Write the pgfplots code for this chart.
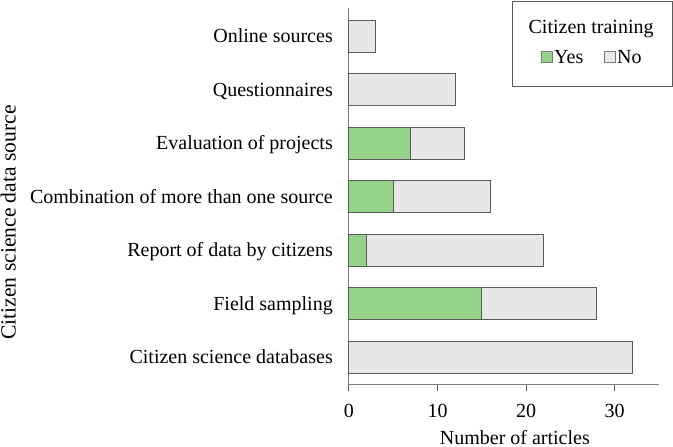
\documentclass[border=0pt]{standalone}
\usepackage{fontspec}
\setmainfont{Liberation Serif}
\usepackage{pgfplots}
\pgfplotsset{compat=1.18}
\definecolor{yesgreen}{HTML}{95D38A}
\definecolor{nogray}{HTML}{E8E7E8}
\definecolor{edge}{HTML}{5A5A5A}
\definecolor{axisgray}{HTML}{7A7A7A}
\pgfplotsset{sq legend/.style={legend image code/.code={\draw[##1, draw=axisgray, line width=0.8bp] (0bp,-5.5bp) rectangle (11bp,5.5bp);}}}
\begin{document}
\begin{tikzpicture}[font=\fontsize{20bp}{24bp}\selectfont]
\useasboundingbox (-349bp,-63bp) rectangle (324bp,384bp);
\begin{axis}[
  at={(0,0)}, anchor=south west,
  scale only axis, width=310bp, height=376bp,
  xbar stacked, bar width=31.7bp,
  xmin=0, xmax=35, ymin=-0.5, ymax=6.53,
  clip=false,
  axis lines=left,
  axis line style={-, draw=axisgray, line width=1bp},
  xtick={0,10,20,30}, ytick={0,...,6},
  yticklabels={Citizen science databases, Field sampling, Report of data by citizens, Combination of more than one source, Evaluation of projects, Questionnaires, Online sources},
  tick align=outside,
  x tick style={draw=edge, line width=1bp},
  major tick length=7bp,
  y tick style={draw=none},
  /pgf/number format/assume math mode=true,
  yticklabel style={anchor=base east, inner sep=0pt, xshift=-9bp, yshift=-6.5bp},
  xticklabel style={anchor=base, inner sep=0pt, yshift=-26.5bp},
  xlabel={Number of articles},
  xlabel style={at={(axis description cs:0.535,0)}, anchor=base, inner sep=0pt, yshift=-60bp},
  ylabel={Citizen science data source},
  ylabel style={at={(axis description cs:-1.099,0.4295)}, anchor=center, inner sep=0pt, font=\fontsize{21.6bp}{26bp}\selectfont},
  legend columns=2,
  legend style={draw=none, fill=none, inner sep=0pt, outer sep=0pt,
    at={(axis description cs:0.619,0.870)}, anchor=west,
    nodes={inner sep=1.5bp, text depth=0pt},
    /tikz/every even column/.append style={column sep=19bp}},
]
\addplot[fill=yesgreen, draw=edge, line width=1bp, sq legend]
  coordinates {(0,0) (15,1) (2,2) (5,3) (7,4) (0,5) (0,6)};
\addplot[fill=nogray, draw=edge, line width=1bp, sq legend]
  coordinates {(32,0) (13,1) (20,2) (11,3) (6,4) (12,5) (3,6)};
\legend{Yes, No}
\draw[draw=edge, line width=1bp] (axis description cs:0.529,0.790) rectangle (axis description cs:1.042,1.016);
\node[anchor=base, inner sep=0pt] at (axis description cs:0.781,0.931) {Citizen training};
\end{axis}
\end{tikzpicture}
\end{document}
